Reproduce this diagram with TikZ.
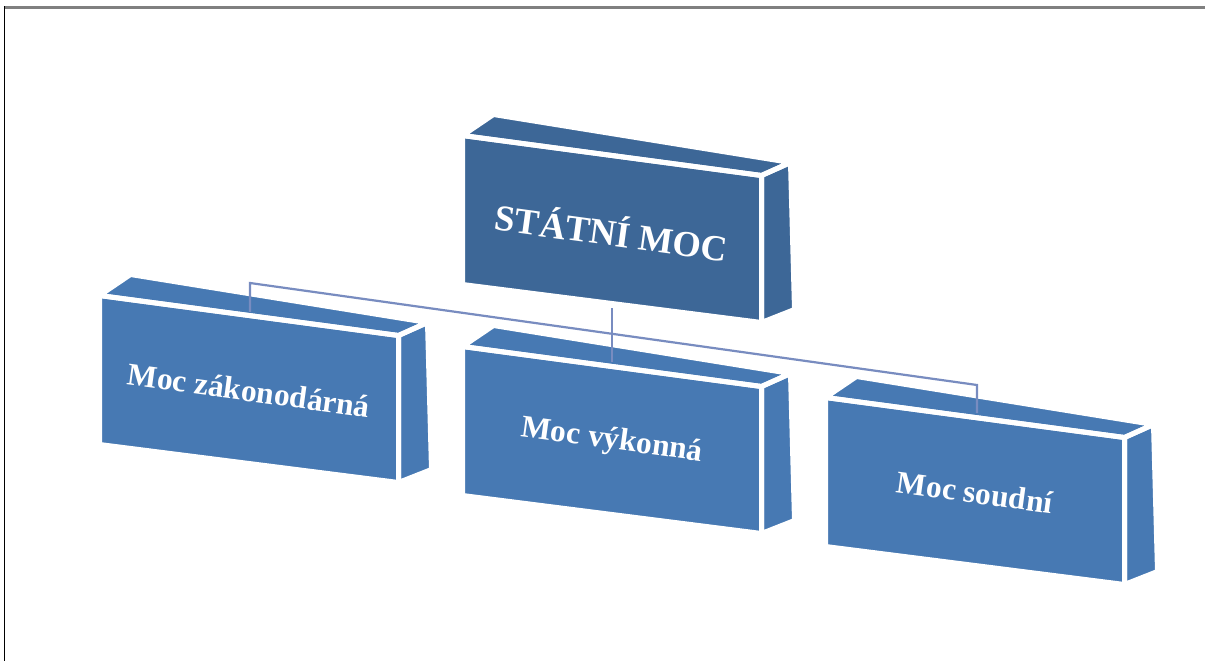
\documentclass[tikz,border=0pt]{standalone}
\usepackage{fontspec}
\setmainfont{Liberation Serif}
\definecolor{topblue}{RGB}{61,103,151}
\definecolor{lowblue}{RGB}{71,121,179}
\definecolor{conn}{RGB}{120,140,192}
\definecolor{framegray}{RGB}{128,128,128}
\tikzset{
  facefill/.style={fill=#1,draw=none},
  faceedge/.style={draw=white,line width=5pt,line join=round},
  boxtext/.style={text=white,font=\bfseries\fontsize{31.5}{37}\selectfont,rotate=-7.8,inner sep=0pt},
  toptext/.style={boxtext,font=\bfseries\fontsize{36.5}{43}\selectfont},
  connector/.style={draw=conn,line width=2.2pt},
}
\newcommand\threedbox[6]{% #1 name, #2 x, #3 y, #4 colour, #5 text style, #6 text
  \begin{scope}[shift={(#2,#3)}]
    \coordinate (#1-A) at (0,0);
    \coordinate (#1-B) at (299,40);
    \coordinate (#1-C) at (299,187);
    \coordinate (#1-D) at (0,149);
    \coordinate (#1-E) at (31,-21);
    \coordinate (#1-F) at (328,27);
    \coordinate (#1-G) at (332,174);
    \path[facefill=#4] (#1-A)--(#1-B)--(#1-C)--(#1-D)--cycle;
    \path[facefill=#4] (#1-A)--(#1-B)--(#1-F)--(#1-E)--cycle;
    \path[facefill=#4] (#1-B)--(#1-F)--(#1-G)--(#1-C)--cycle;
    \path[faceedge] (#1-A)--(#1-B)--(#1-C)--(#1-D)--cycle;
    \path[faceedge] (#1-A)--(#1-B)--(#1-F)--(#1-E)--cycle;
    \path[faceedge] (#1-B)--(#1-F)--(#1-G)--(#1-C)--cycle;
    \node[#5] (#1) at (149.5,95) {#6};
  \end{scope}}
\begin{document}
\begin{tikzpicture}[x=1pt,y=-1pt]
  \useasboundingbox (0,0) rectangle (1205,661);
  \fill[white] (0,0) rectangle (1205,661);
  % frame
  \draw[framegray,line width=2.2pt] (3.8,7.5) -- (1205,7.5);
  \draw[black,line width=1.3pt] (4.5,6.5) -- (4.5,661);
  % boxes
  \threedbox{statni}{462.5}{135.5}{topblue}{toptext}{STÁTNÍ MOC}
  \threedbox{zak}{99.5}{295.5}{lowblue}{boxtext}{Moc zákonodárná}
  \threedbox{vyk}{462.5}{346.5}{lowblue}{boxtext}{Moc výkonná}
  \threedbox{soud}{825.5}{397.5}{lowblue}{boxtext}{Moc soudní}
  % connectors
  \coordinate (statni-out) at (612,308);
  \coordinate (vyk-in) at (612,362);
  \coordinate (zak-in) at (250,312);
  \coordinate (soud-in) at (977,413);
  \coordinate (busL) at (250,283);
  \coordinate (busR) at (977,385);
  \path[connector] (zak-in) -- (busL) -- (busR) -- (soud-in);
  \path[connector] (statni-out) -- (vyk-in);
\end{tikzpicture}
\end{document}
